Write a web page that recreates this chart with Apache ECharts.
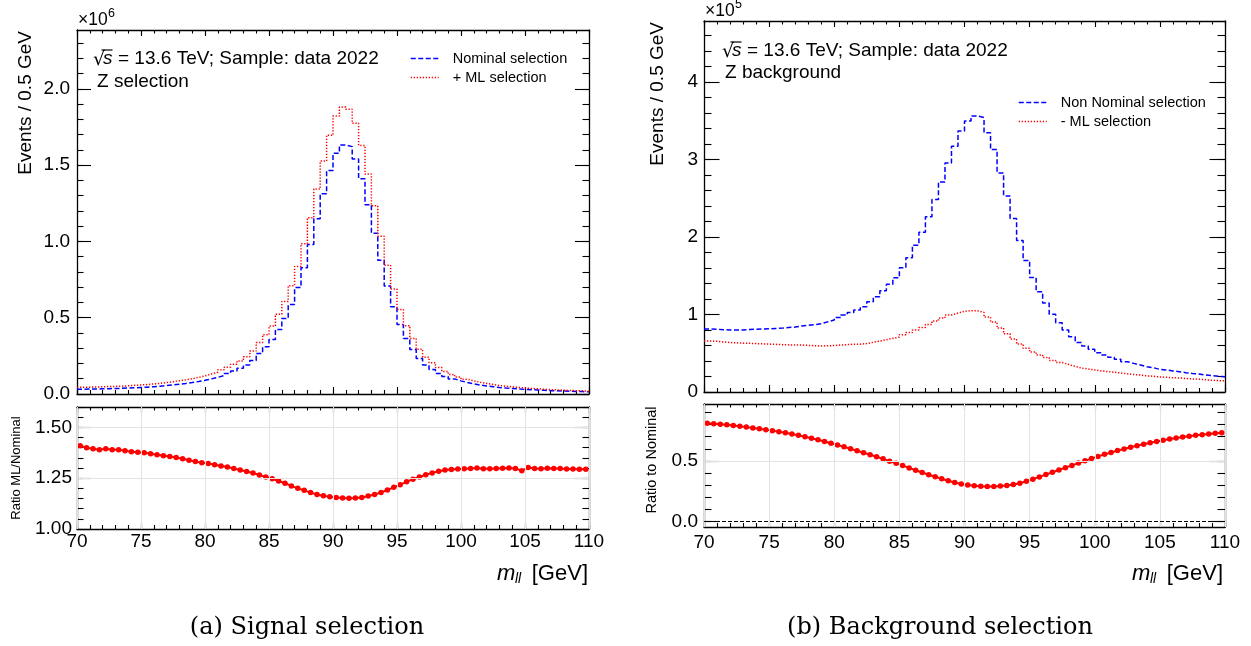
<!DOCTYPE html>
<html>
<head>
<meta charset="utf-8">
<script src="https://cdn.jsdelivr.net/npm/echarts@6/dist/echarts.min.js"></script>
<style>
  html, body { margin: 0; padding: 0; background: #fff; }
  #chart { width: 1251px; height: 646px; }
</style>
</head>
<body>
<div id="chart"></div>
<script>
// Dilepton invariant mass histograms, 0.5 GeV bins from 70 to 110 GeV
const binLow = 70;
const binWidth = 0.5;

// Z selection (events per bin, in units of 10^6)
const sigNominal = [
  0.031, 0.032, 0.033, 0.034, 0.035, 0.036, 0.037, 0.039, 0.041, 0.043,
  0.045, 0.048, 0.051, 0.055, 0.059, 0.064, 0.069, 0.075, 0.082, 0.090,
  0.099, 0.109, 0.121, 0.135, 0.150, 0.168, 0.190, 0.220, 0.266, 0.309,
  0.357, 0.423, 0.495, 0.586, 0.697, 0.828, 0.980, 1.148, 1.312, 1.464,
  1.577, 1.632, 1.621, 1.540, 1.410, 1.240, 1.054, 0.876, 0.708, 0.571,
  0.455, 0.364, 0.292, 0.233, 0.190, 0.161, 0.135, 0.115, 0.099, 0.086,
  0.075, 0.066, 0.059, 0.053, 0.048, 0.043, 0.039, 0.036, 0.033, 0.030,
  0.028, 0.026, 0.024, 0.022, 0.021, 0.019, 0.018, 0.017, 0.016, 0.014
];
const sigML = [
  0.044, 0.045, 0.046, 0.047, 0.049, 0.050, 0.051, 0.054, 0.057, 0.059,
  0.062, 0.066, 0.070, 0.075, 0.080, 0.087, 0.093, 0.100, 0.109, 0.119,
  0.131, 0.143, 0.159, 0.176, 0.195, 0.217, 0.244, 0.281, 0.337, 0.388,
  0.445, 0.523, 0.606, 0.710, 0.836, 0.985, 1.155, 1.343, 1.526, 1.695,
  1.821, 1.880, 1.866, 1.774, 1.629, 1.441, 1.233, 1.034, 0.844, 0.688,
  0.554, 0.448, 0.364, 0.293, 0.241, 0.205, 0.173, 0.148, 0.128, 0.111,
  0.097, 0.086, 0.077, 0.069, 0.062, 0.056, 0.051, 0.047, 0.043, 0.039,
  0.036, 0.034, 0.031, 0.029, 0.027, 0.025, 0.023, 0.022, 0.021, 0.018
];
const sigRatio = [
  1.410, 1.400, 1.395, 1.390, 1.395, 1.390, 1.390, 1.385, 1.380, 1.378,
  1.375, 1.370, 1.365, 1.360, 1.357, 1.352, 1.345, 1.338, 1.332, 1.326,
  1.322, 1.316, 1.310, 1.305, 1.298, 1.290, 1.283, 1.275, 1.266, 1.256,
  1.247, 1.236, 1.225, 1.212, 1.200, 1.190, 1.179, 1.170, 1.163, 1.158,
  1.155, 1.152, 1.151, 1.152, 1.155, 1.162, 1.170, 1.180, 1.192, 1.205,
  1.218, 1.232, 1.245, 1.256, 1.267, 1.276, 1.284, 1.290, 1.293, 1.295,
  1.296, 1.298, 1.300, 1.296, 1.296, 1.298, 1.299, 1.300, 1.298, 1.287,
  1.302, 1.298, 1.296, 1.299, 1.297, 1.297, 1.295, 1.295, 1.294, 1.294
];

// Z background (events per bin, in units of 10^5)
const bkgNominal = [
  0.812, 0.810, 0.803, 0.800, 0.800, 0.801, 0.806, 0.810, 0.812, 0.815,
  0.820, 0.824, 0.831, 0.838, 0.852, 0.860, 0.870, 0.880, 0.905, 0.928,
  0.960, 0.992, 1.027, 1.057, 1.100, 1.163, 1.228, 1.305, 1.390, 1.474,
  1.602, 1.733, 1.894, 2.060, 2.260, 2.483, 2.710, 2.955, 3.170, 3.368,
  3.497, 3.561, 3.540, 3.346, 3.127, 2.826, 2.530, 2.238, 1.955, 1.696,
  1.477, 1.293, 1.147, 1.003, 0.894, 0.799, 0.713, 0.640, 0.593, 0.550,
  0.507, 0.477, 0.447, 0.421, 0.391, 0.369, 0.348, 0.326, 0.313, 0.292,
  0.284, 0.271, 0.262, 0.249, 0.240, 0.232, 0.219, 0.210, 0.202, 0.198
];
const bkgML = [
  0.658, 0.654, 0.645, 0.638, 0.634, 0.630, 0.628, 0.625, 0.621, 0.618,
  0.615, 0.611, 0.608, 0.605, 0.606, 0.601, 0.598, 0.593, 0.597, 0.599,
  0.606, 0.611, 0.616, 0.617, 0.625, 0.641, 0.656, 0.675, 0.692, 0.708,
  0.739, 0.766, 0.801, 0.832, 0.872, 0.916, 0.954, 0.993, 1.018, 1.041,
  1.049, 1.047, 1.027, 0.967, 0.904, 0.825, 0.751, 0.683, 0.618, 0.563,
  0.515, 0.476, 0.444, 0.407, 0.380, 0.355, 0.330, 0.308, 0.297, 0.285,
  0.272, 0.264, 0.255, 0.246, 0.234, 0.226, 0.218, 0.208, 0.203, 0.193,
  0.191, 0.184, 0.181, 0.174, 0.169, 0.165, 0.157, 0.152, 0.147, 0.145
];
const bkgRatio = [
  0.810, 0.807, 0.803, 0.798, 0.792, 0.786, 0.779, 0.772, 0.765, 0.758,
  0.750, 0.741, 0.732, 0.722, 0.711, 0.699, 0.687, 0.674, 0.660, 0.646,
  0.631, 0.616, 0.600, 0.584, 0.568, 0.551, 0.534, 0.517, 0.498, 0.480,
  0.461, 0.442, 0.423, 0.404, 0.386, 0.369, 0.352, 0.336, 0.321, 0.309,
  0.300, 0.294, 0.290, 0.289, 0.289, 0.292, 0.297, 0.305, 0.316, 0.332,
  0.349, 0.368, 0.387, 0.406, 0.425, 0.444, 0.463, 0.482, 0.501, 0.519,
  0.537, 0.554, 0.570, 0.585, 0.599, 0.613, 0.626, 0.638, 0.650, 0.661,
  0.671, 0.680, 0.689, 0.697, 0.704, 0.711, 0.717, 0.723, 0.728, 0.733
];

// Tick positions
const xTicks = [70, 75, 80, 85, 90, 95, 100, 105, 110];
const sigMainYTicks = [0, 0.5, 1.0, 1.5, 2.0];
const sigRatioYTicks = [1.00, 1.25, 1.50];
const bkgMainYTicks = [0, 1, 2, 3, 4];
const bkgRatioYTicks = [0.0, 0.5];
const bkgRatioRef = 0;

const FONT = '"Liberation Sans", Arial, Helvetica, sans-serif';
const BLUE = '#0000ff';
const RED = '#ff0000';

function seq(a, b, step) {
  const out = [];
  const n = Math.round((b - a) / step);
  for (let i = 0; i <= n; i++) out.push(+(a + i * step).toFixed(6));
  return out;
}
// histogram outline: one point per lower bin edge plus the last upper edge
function stepPoints(vals) {
  const pts = vals.map((v, i) => [binLow + binWidth * i, v]);
  pts.push([binLow + binWidth * vals.length, vals[vals.length - 1]]);
  return pts;
}
function centerPoints(vals) {
  return vals.map((v, i) => [binLow + binWidth * (i + 0.5), v]);
}

const frameLine = { color: '#000', width: 1.3 };
const tickLine = { color: '#000', width: 1.1 };

function axis(gridIndex, position, range, ticks, len, showLine, label) {
  return {
    type: 'value', gridIndex, position, min: range[0], max: range[1],
    axisLine: { show: showLine, onZero: false, lineStyle: frameLine },
    axisTick: { show: true, inside: true, length: len, customValues: ticks, lineStyle: tickLine },
    axisLabel: label
      ? Object.assign({ show: true, customValues: ticks, color: '#000', fontFamily: FONT, fontSize: 19 }, label)
      : { show: false },
    splitLine: { show: false },
    minorTick: { show: false }
  };
}

const xMinor = seq(70, 110, 1);
const panels = [
  { grid: { left: 77, top: 30, width: 512, height: 364 }, y: [0, 2.385],
    yMajor: sigMainYTicks, yMinor: seq(0, 2.3, 0.1), fmt: v => v.toFixed(1),
    yLab: 7, xLab: null, yLen: [14, 6.5] },
  { grid: { left: 77, top: 407, width: 512, height: 122 }, y: [1.0, 1.60],
    yMajor: sigRatioYTicks, yMinor: seq(1.0, 1.6, 0.05), fmt: v => v.toFixed(2),
    yLab: 5, xLab: 3, yLen: [14, 6.5] },
  { grid: { left: 704, top: 21, width: 521, height: 371 }, y: [0, 4.786],
    yMajor: bkgMainYTicks, yMinor: seq(0, 4.6, 0.2), fmt: v => String(Math.round(v)),
    yLab: 6, xLab: null, yLen: [15.5, 7.5] },
  { grid: { left: 704, top: 404, width: 521, height: 123 }, y: [-0.046, 0.97],
    yMajor: bkgRatioYTicks, yMinor: seq(0, 0.9, 0.1), fmt: v => v.toFixed(1),
    yLab: 6, xLab: 6, yLen: [15.5, 7.5] }
];

const grids = [], xAxes = [], yAxes = [];
panels.forEach((p, g) => {
  grids.push(Object.assign({ outerBoundsMode: 'none', containLabel: false }, p.grid));
  const xr = [70, 110];
  xAxes.push(axis(g, 'bottom', xr, xTicks, 7, true,
    p.xLab == null ? null : { margin: p.xLab, formatter: v => String(Math.round(v)) }));
  xAxes.push(axis(g, 'bottom', xr, xMinor, 4, false, null));
  xAxes.push(axis(g, 'top', xr, xTicks, 6, true, null));
  xAxes.push(axis(g, 'top', xr, xMinor, 3.5, false, null));
  yAxes.push(axis(g, 'left', p.y, p.yMajor, p.yLen[0], true, { margin: p.yLab, formatter: p.fmt }));
  yAxes.push(axis(g, 'left', p.y, p.yMinor, p.yLen[1], false, null));
  yAxes.push(axis(g, 'right', p.y, p.yMajor, p.yLen[0], true, null));
  yAxes.push(axis(g, 'right', p.y, p.yMinor, p.yLen[1], false, null));
});

function hist(g, name, vals, color, dash) {
  return {
    type: 'line', name, xAxisIndex: 4 * g, yAxisIndex: 4 * g,
    data: stepPoints(vals), step: 'end', symbol: 'none', silent: true, z: 3,
    lineStyle: { color, width: 1.5, type: dash }, itemStyle: { color }
  };
}
function ratio(g, vals) {
  return {
    type: 'line', name: 'ratio' + g, xAxisIndex: 4 * g, yAxisIndex: 4 * g,
    data: centerPoints(vals), symbol: 'circle', symbolSize: 5.5, showAllSymbol: true,
    silent: true, z: 4,
    lineStyle: { color: RED, width: 2 }, itemStyle: { color: RED }
  };
}
function gridLines(g, yTicks, extra) {
  const grey = { color: '#e3e3e3', width: 1, type: 'solid' };
  const data = xTicks.map(v => ({ xAxis: v, lineStyle: grey }))
    .concat(yTicks.map(v => ({ yAxis: v, lineStyle: grey })))
    .concat(extra || []);
  return {
    type: 'line', name: 'grid' + g, xAxisIndex: 4 * g, yAxisIndex: 4 * g,
    data: [], silent: true, z: 1,
    markLine: { silent: true, symbol: ['none', 'none'], label: { show: false }, animation: false, data }
  };
}

const series = [
  hist(0, 'Nominal selection', sigNominal, BLUE, [5, 2.5]),
  hist(0, '+ ML selection', sigML, RED, [1.3, 1.7]),
  gridLines(1, [1.25, 1.50]),
  ratio(1, sigRatio),
  hist(2, 'Non Nominal selection', bkgNominal, BLUE, [5, 2.5]),
  hist(2, '- ML selection', bkgML, RED, [1.3, 1.7]),
  gridLines(3, [0.5], [{ yAxis: bkgRatioRef, lineStyle: { color: '#000', width: 1, type: [4, 2] } }]),
  ratio(3, bkgRatio)
];

const legendText = { fontSize: 14.5, fontFamily: FONT, color: '#000', padding: [0, 0, 0, 9] };
const legends = [
  { data: ['Nominal selection', '+ ML selection'], left: 410, top: 51 },
  { data: ['Non Nominal selection', '- ML selection'], left: 1018, top: 95 }
].map(l => Object.assign({
  orient: 'vertical', itemWidth: 28, itemHeight: 14, itemGap: 4, padding: 0,
  selectedMode: false, textStyle: legendText,
  itemStyle: { opacity: 0, color: 'rgba(0,0,0,0)', borderWidth: 0 },
  lineStyle: { width: 1.5 }
}, l));

// text annotations
function txt(x, y, text, size, extra) {
  return {
    type: 'text', x, y, silent: true,
    style: Object.assign({ text, fill: '#000', font: size + 'px ' + FONT,
      align: 'left', verticalAlign: 'middle', textAlign: 'left', textVerticalAlign: 'middle' }, extra || {})
  };
}
function vtxt(x, y, text, size, align) {
  return {
    type: 'text', x, y, rotation: Math.PI / 2, silent: true,
    style: { text, fill: '#000', font: size + 'px ' + FONT, align, verticalAlign: 'middle',
      textAlign: align, textVerticalAlign: 'middle' }
  };
}
function sqrtS(x, y, size) {
  return [
    txt(x, y + 1, '\u221A', size, { font: size + 'px "DejaVu Sans", sans-serif' }),
    txt(x + 10, y, 's', size, { font: 'italic ' + size + 'px ' + FONT }),
    { type: 'line', silent: true, shape: { x1: x + 8.5, y1: y - 9, x2: x + 19.5, y2: y - 9 },
      style: { stroke: '#000', lineWidth: 1.2 } },
    txt(x + 25, y, '= 13.6 TeV; Sample: data 2022', size)
  ];
}
function massTitle(xRight, y) {
  return [
    txt(xRight, y, '[GeV]', 22, { align: 'right', textAlign: 'right' }),
    txt(xRight - 73, y + 5, 'll', 14, { font: 'italic 14px ' + FONT }),
    txt(xRight - 91, y, 'm', 22, { font: 'italic 22px ' + FONT })
  ];
}
function exponent(x, y, power) {
  return [
    txt(x, y, '\u00D710', 17.5),
    txt(x + 30, y - 6, power, 12.5)
  ];
}
const captionFont = '24px "DejaVu Serif", "Liberation Serif", serif';

const graphics = [].concat(
  exponent(78, 20, '6'),
  exponent(705, 11, '5'),
  [vtxt(26, 31, 'Events / 0.5 GeV', 19, 'right'),
   vtxt(658, 22, 'Events / 0.5 GeV', 19, 'right'),
   vtxt(16, 468, 'Ratio ML/Nominal', 13, 'center'),
   vtxt(652, 460, 'Ratio to Nominal', 14.5, 'center')],
  sqrtS(93, 59, 19),
  [txt(97, 82, 'Z selection', 19)],
  sqrtS(722, 51, 19),
  [txt(725, 73, 'Z background', 19)],
  massTitle(588, 574),
  massTitle(1223, 574),
  [txt(307, 628, '(a) Signal selection', 24, { font: captionFont, align: 'center', textAlign: 'center' }),
   txt(940, 628, '(b) Background selection', 24, { font: captionFont, align: 'center', textAlign: 'center' })]
);

const chart = echarts.init(document.getElementById('chart'), null, { renderer: 'canvas' });
chart.setOption({
  animation: false,
  backgroundColor: '#fff',
  textStyle: { fontFamily: FONT },
  grid: grids,
  xAxis: xAxes,
  yAxis: yAxes,
  legend: legends,
  series,
  graphic: { elements: graphics }
});
</script>
</body>
</html>
